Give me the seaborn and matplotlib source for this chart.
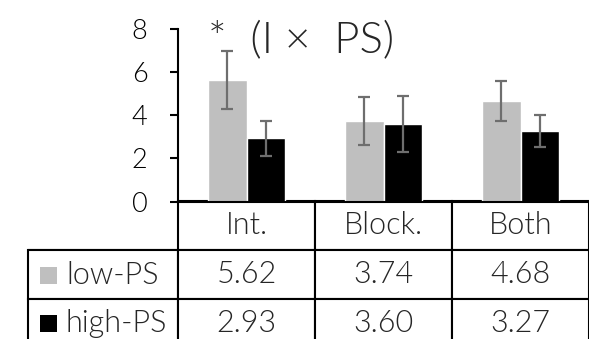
import pandas as pd
import seaborn as sns
import matplotlib.pyplot as plt
from matplotlib.patches import Rectangle

conditions = ["Int.", "Block.", "Both"]
groups = ["low-PS", "high-PS"]
low_ps = [5.62, 3.74, 4.68]
high_ps = [2.93, 3.60, 3.27]
low_err = [1.34, 1.10, 0.93]
high_err = [0.82, 1.30, 0.75]
colors = ["#bfbfbf", "#000000"]
yticks = [0, 2, 4, 6, 8]

sns.set_style("ticks")
plt.rcParams["font.family"] = ["Lato", "DejaVu Sans"]
plt.rcParams["font.weight"] = 300

df = pd.DataFrame({
    "cond": conditions * 2,
    "group": [groups[0]] * 3 + [groups[1]] * 3,
    "value": low_ps + high_ps,
    "err": low_err + high_err,
})

fig = plt.figure(figsize=(5.89, 3.39), dpi=100)
# axes in pixel terms: x 178..589, y 29..201.5 (from top)
ax = fig.add_axes([178 / 589, (339 - 201.5) / 339, 411 / 589, 172.5 / 339])

sns.barplot(data=df, x="cond", y="value", hue="group", order=conditions,
            hue_order=groups, palette=colors, width=0.56, saturation=1,
            errorbar=None, legend=False, ax=ax)

# error bars on the bar centres seaborn placed
for cont, grp in zip(ax.containers, groups):
    sub = df[df["group"] == grp].set_index("cond").loc[conditions]
    xs = [b.get_x() + b.get_width() / 2 for b in cont]
    ax.errorbar(xs, sub["value"], yerr=sub["err"], fmt="none",
                ecolor="#6e6e6e", elinewidth=1.6, capsize=4.5, capthick=1.6)

ax.set_ylim(0, 8)
ax.set_xlim(-0.5, 2.5)
ax.set_yticks(yticks)
ax.set_xticks([])
ax.set_xlabel("")
ax.set_ylabel("")
ax.tick_params(axis="y", labelsize=19.5, length=6, width=1.5, pad=16,
               colors="black")
for s in ["top", "right"]:
    ax.spines[s].set_visible(False)
for s in ["left", "bottom"]:
    ax.spines[s].set_linewidth(1.5)
    ax.spines[s].set_color("black")

ax.text(30 / 411, (201.5 - 52) / 172.5, "*  (I \u00d7  PS)", fontsize=31.5,
        transform=ax.transAxes, va="baseline", ha="left")

# data table under the axis
cell_text = [[""] + conditions,
             [""] + [f"{v:.2f}" for v in low_ps],
             [""] + [f"{v:.2f}" for v in high_ps]]
tab_h = 146 / 172.5
x0 = (28 - 178) / 411
tab = ax.table(cellText=cell_text, colWidths=[150, 137, 137, 137],
               cellLoc="center", bbox=[x0, -tab_h, 1 - x0, tab_h])
tab.auto_set_font_size(False)
for (r, c), cell in tab.get_celld().items():
    cell.set_linewidth(1.5)
    cell.set_edgecolor("black")
    cell.get_text().set_fontsize(22)
    cell.set_clip_on(False)
tab.get_celld()[(0, 0)].visible_edges = "B"

for i, (grp, col) in enumerate(zip(groups, colors)):
    yc = (201.5 - (275 + 48 * i)) / 172.5
    ax.add_patch(Rectangle(((40 - 178) / 411, yc - 8.5 / 172.5), 17 / 411,
                           17 / 172.5, transform=ax.transAxes,
                           facecolor=col, edgecolor="none", clip_on=False))
    ax.text((66 - 178) / 411, yc, grp, fontsize=22, transform=ax.transAxes,
            va="center", ha="left")

fig.savefig("out.png", dpi=100)
